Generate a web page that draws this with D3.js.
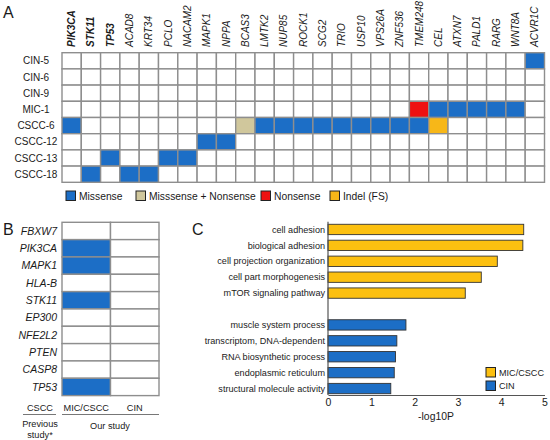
<!DOCTYPE html>
<html><head><meta charset="utf-8">
<script src="https://cdn.jsdelivr.net/npm/d3@7"></script>
<style>body{margin:0;background:#fff}svg{display:block;font-family:"Liberation Sans",Arial,sans-serif}</style>
</head><body><svg id="c" width="550" height="440"></svg>
<script>
// ---------- DATA ----------
const genesA = ["PIK3CA","STK11","TP53","ACAD8","KRT34","PCLO","NACAM2","MAPK1","NPPA","BCAS3","LMTK2","NUP85","ROCK1","SCG2","TRIO","USP10","VPS26A","ZNF536","TMEM248","CEL","ATXN7","PALD1","RARG","WNT8A","ACVR1C"];
const boldGenes = ["PIK3CA","STK11","TP53"];
const samplesA = ["CIN-5","CIN-6","CIN-9","MIC-1","CSCC-6","CSCC-12","CSCC-13","CSCC-18"];
const mutTypes = ["Missense","Misssense + Nonsense","Nonsense","Indel (FS)"];
const mutSample = ["CIN-5","MIC-1","MIC-1","MIC-1","MIC-1","MIC-1","MIC-1",
  "CSCC-6","CSCC-6","CSCC-6","CSCC-6","CSCC-6","CSCC-6","CSCC-6","CSCC-6","CSCC-6","CSCC-6","CSCC-6","CSCC-6",
  "CSCC-12","CSCC-12","CSCC-13","CSCC-13","CSCC-13","CSCC-18","CSCC-18","CSCC-18"];
const mutGene = ["ACVR1C","TMEM248","CEL","ATXN7","PALD1","RARG","WNT8A",
  "PIK3CA","BCAS3","LMTK2","NUP85","ROCK1","SCG2","TRIO","USP10","VPS26A","ZNF536","TMEM248","CEL",
  "MAPK1","NPPA","TP53","PCLO","NACAM2","STK11","ACAD8","KRT34"];
const mutType = ["Missense","Nonsense","Missense","Missense","Missense","Missense","Missense",
  "Missense","Misssense + Nonsense","Missense","Missense","Missense","Missense","Missense","Missense","Missense","Missense","Missense","Indel (FS)",
  "Missense","Missense","Missense","Missense","Missense","Missense","Missense","Missense"];

const genesB = ["FBXW7","PIK3CA","MAPK1","HLA-B","STK11","EP300","NFE2L2","PTEN","CASP8","TP53"];
const groupsB = ["MIC/CSCC","CIN"];
const mutatedB = ["PIK3CA","MAPK1","STK11","TP53"]; // in MIC/CSCC

const termsC = ["cell adhesion","biological adhesion","cell projection organization","cell part morphogenesis","mTOR signaling pathway","",
  "muscle system process","transcriptom, DNA-dependent","RNA biosynthetic process","endoplasmic reticulum","structural molecule activity"];
const valuesC = [4.52,4.50,3.91,3.54,3.17,null,1.80,1.59,1.56,1.53,1.45];
const groupC = ["MIC/CSCC","MIC/CSCC","MIC/CSCC","MIC/CSCC","MIC/CSCC","","CIN","CIN","CIN","CIN","CIN"];
const xTicksC = [0,1,2,3,4,5];

// ---------- STYLE ----------
const colA = d3.scaleOrdinal().domain(mutTypes).range(["#1c6ec6","#d0c79c","#ee1111","#f7b718"]);
const colC = d3.scaleOrdinal().domain(["MIC/CSCC","CIN"]).range(["#fcc010","#1c6ec6"]);
const gridCol = "#8e8e8e", txt = "#1a1a1a";

const svg = d3.select("#c");

// ---------- PANEL A ----------
const xA = d3.scaleBand().domain(genesA).range([62,544.5]);
const yA = d3.scaleBand().domain(samplesA).range([52.7,182.3]);
const gA = svg.append("g");
gA.append("text").attr("x",3).attr("y",18).attr("font-size",16).attr("fill",txt).text("A");
const cellsA = [];
samplesA.forEach(s=>genesA.forEach(g=>cellsA.push({s,g})));
const mutMap = new Map(mutSample.map((s,i)=>[s+"|"+mutGene[i], mutType[i]]));
gA.selectAll("rect.cell").data(cellsA).join("rect").attr("class","cell")
  .attr("x",d=>xA(d.g)).attr("y",d=>yA(d.s)).attr("width",xA.bandwidth()).attr("height",yA.bandwidth())
  .attr("fill",d=>{const t=mutMap.get(d.s+"|"+d.g);return t?colA(t):"#fff";})
  .attr("stroke",gridCol).attr("stroke-width",1.4);
gA.selectAll("text.gene").data(genesA).join("text").attr("class","gene")
  .attr("transform",d=>`translate(${xA(d)+xA.bandwidth()/2+3.5},47) rotate(-90)`)
  .attr("font-size",10).attr("font-style","italic").attr("fill",txt)
  .attr("font-weight",d=>boldGenes.includes(d)?"bold":"normal").text(d=>d);
gA.selectAll("text.samp").data(samplesA).join("text").attr("class","samp")
  .attr("x",36).attr("y",d=>yA(d)+yA.bandwidth()/2).attr("dy","0.35em").attr("text-anchor","middle")
  .attr("font-size",10).attr("fill",txt).text(d=>d);
const legX = [66,136,261,330];
const legA = gA.selectAll("g.leg").data(mutTypes).join("g").attr("class","leg")
  .attr("transform",(d,i)=>`translate(${legX[i]},191)`);
legA.append("rect").attr("width",9.5).attr("height",9.5).attr("fill",d=>colA(d)).attr("stroke","#222").attr("stroke-width",1);
legA.append("text").attr("x",13).attr("y",5).attr("dy","0.35em").attr("font-size",10.3).attr("fill",txt).text(d=>d);

// ---------- PANEL B ----------
const gB = svg.append("g");
gB.append("text").attr("x",3).attr("y",235).attr("font-size",16).attr("fill",txt).text("B");
const xB = d3.scaleBand().domain(groupsB).range([62,159]);
const yB = d3.scaleBand().domain(genesB).range([222.3,395.6]);
const cellsB = [];
genesB.forEach(g=>groupsB.forEach(c=>cellsB.push({g,c})));
gB.selectAll("rect").data(cellsB).join("rect")
  .attr("x",d=>xB(d.c)).attr("y",d=>yB(d.g)).attr("width",xB.bandwidth()).attr("height",yB.bandwidth())
  .attr("fill",d=>d.c==="MIC/CSCC"&&mutatedB.includes(d.g)?colA("Missense"):"#fff")
  .attr("stroke",gridCol).attr("stroke-width",1.4);
gB.selectAll("text.gb").data(genesB).join("text").attr("class","gb")
  .attr("x",57).attr("y",d=>yB(d)+yB.bandwidth()/2).attr("dy","0.35em").attr("text-anchor","end")
  .attr("font-size",10.5).attr("font-style","italic").attr("fill",txt).text(d=>d);
const colHeads = ["CSCC"].concat(groupsB);
const colHeadX = [40, xB("MIC/CSCC")+xB.bandwidth()/2, xB("CIN")+xB.bandwidth()/2];
gB.selectAll("text.ch").data(colHeads).join("text").attr("class","ch")
  .attr("x",(d,i)=>colHeadX[i]).attr("y",408).attr("dy","0.35em").attr("text-anchor","middle")
  .attr("font-size",9.2).attr("fill",txt).text(d=>d);
gB.append("line").attr("x1",23).attr("x2",56).attr("y1",414.5).attr("y2",414.5).attr("stroke","#777").attr("stroke-width",1.2);
gB.append("line").attr("x1",62).attr("x2",159).attr("y1",414.5).attr("y2",414.5).attr("stroke","#777").attr("stroke-width",1.2);
gB.append("text").attr("x",40).attr("y",424).attr("dy","0.35em").attr("text-anchor","middle").attr("font-size",9.2).attr("fill",txt).text("Previous");
gB.append("text").attr("x",40).attr("y",435).attr("dy","0.35em").attr("text-anchor","middle").attr("font-size",9.2).attr("fill",txt).text("study*");
gB.append("text").attr("x",110).attr("y",425.5).attr("dy","0.35em").attr("text-anchor","middle").attr("font-size",9.2).attr("fill",txt).text("Our study");

// ---------- PANEL C ----------
const gC = svg.append("g");
gC.append("text").attr("x",192).attr("y",235).attr("font-size",16).attr("fill",txt).text("C");
const xC = d3.scaleLinear().domain([0,5]).range([328,544.5]);
const yC = d3.scaleBand().domain(termsC.map((t,i)=>i)).range([221.5,396.5]).paddingInner(0.35).paddingOuter(0.175);
const barsC = termsC.map((t,i)=>({t,v:valuesC[i],g:groupC[i],i})).filter(d=>d.v!==null);
gC.selectAll("rect.bar").data(barsC).join("rect").attr("class","bar")
  .attr("x",xC(0)).attr("y",d=>yC(d.i)).attr("width",d=>xC(d.v)-xC(0)).attr("height",yC.bandwidth())
  .attr("fill",d=>colC(d.g)).attr("stroke","#333").attr("stroke-width",0.9);
gC.selectAll("text.term").data(barsC).join("text").attr("class","term")
  .attr("x",325).attr("y",d=>yC(d.i)+yC.bandwidth()/2).attr("dy","0.35em").attr("text-anchor","end")
  .attr("font-size",9.1).attr("fill",txt).text(d=>d.t);
const ax = gC.append("g").attr("transform","translate(0,395)")
  .call(d3.axisBottom(xC).tickValues(xTicksC).tickSize(0).tickPadding(4).tickFormat(d3.format("d")));
ax.select(".domain").attr("stroke","#555").attr("stroke-width",1.2);
ax.selectAll("text").attr("font-size",10.5).attr("fill",txt).attr("font-family","'Liberation Sans',Arial,sans-serif");
gC.append("line").attr("x1",328).attr("x2",328).attr("y1",221.7).attr("y2",395).attr("stroke","#555").attr("stroke-width",1.2);
gC.append("text").attr("x",436).attr("y",416).attr("dy","0.35em").attr("text-anchor","middle").attr("font-size",10.4).attr("fill",txt).text("-log10P");
const legC = gC.selectAll("g.legc").data(["MIC/CSCC","CIN"]).join("g").attr("class","legc")
  .attr("transform",(d,i)=>`translate(486,${367.5+i*13.5})`);
legC.append("rect").attr("width",9.5).attr("height",9.5).attr("fill",d=>colC(d)).attr("stroke","#222").attr("stroke-width",1);
legC.append("text").attr("x",13).attr("y",5).attr("dy","0.35em").attr("font-size",9.1).attr("fill",txt).text(d=>d);
</script></body></html>
